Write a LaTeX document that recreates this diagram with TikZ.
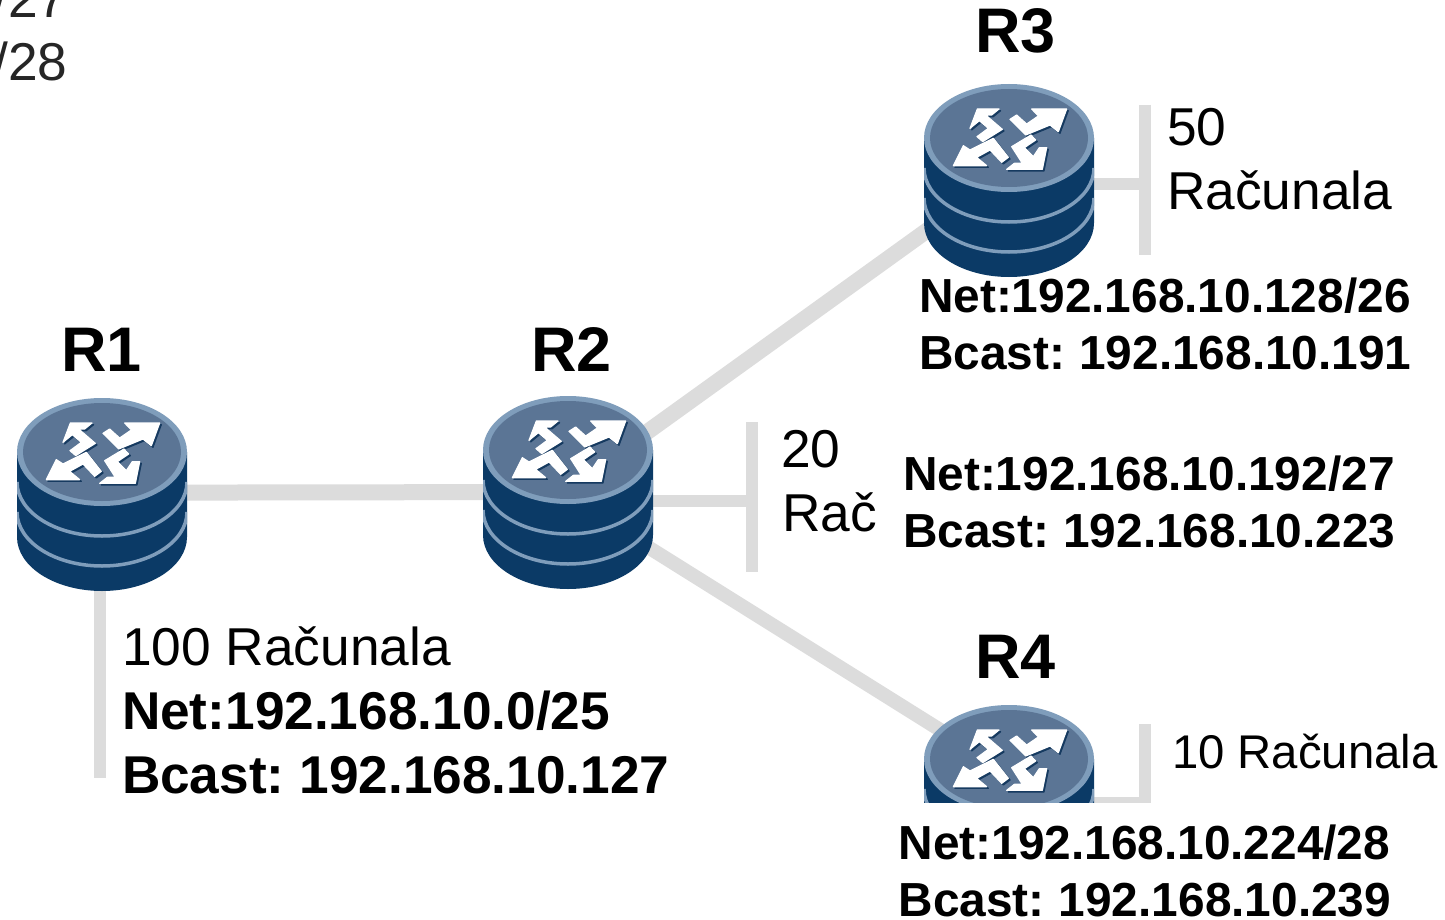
\documentclass[tikz,border=0pt]{standalone}
\usepackage{fontspec}
\setmainfont{Liberation Sans}
\definecolor{linkgray}{HTML}{DCDCDC}
\definecolor{bodyblue}{HTML}{0B3A66}
\definecolor{topblue}{HTML}{5B7595}
\definecolor{rimblue}{HTML}{7F9DBB}
\definecolor{shadeblue}{HTML}{163A60}
\definecolor{notegray}{HTML}{262626}
\def\iconpath{
 (97,27)--(162,27)--(140,45)--(122,45)--(172,88)--(113,125)--(96,110)--(130,85)--(103,62)--(75,85)--cycle
 (365,27)--(340,95)--(315,75)--(242,105)--(195,58)--(215,45)--(245,72)--(280,48)--(260,27)--cycle
 (25,197)--(55,137)--(75,150)--(145,115)--(190,172)--(170,187)--(135,150)--(95,172)--(125,197)--cycle
 (292,208)--(185,208)--(208,190)--(232,190)--(200,140)--(258,105)--(272,120)--(238,143)--(265,170)--(283,143)--(305,143)--cycle
}
\tikzset{
 spot/.style={minimum width=170pt,minimum height=190pt,inner sep=0pt,outer sep=0pt},
 link/.style={draw=linkgray,line width=12pt},
 lab/.style={anchor=base west,inner sep=0pt,outer sep=0pt,font=\fontsize{53.3pt}{60pt}\selectfont},
 net/.style={anchor=base west,inner sep=0pt,outer sep=0pt,font=\fontsize{47.8pt}{54pt}\selectfont\bfseries},
 netbig/.style={anchor=base west,inner sep=0pt,outer sep=0pt,font=\fontsize{53.2pt}{60pt}\selectfont\bfseries},
 title/.style={anchor=base west,inner sep=0pt,outer sep=0pt,font=\fontsize{63pt}{66pt}\selectfont\bfseries},
 routerpic/.pic={
  \fill[bodyblue] (-85,0) -- (-85,85) arc[start angle=180,end angle=0,x radius=85,y radius=54] -- (85,0) -- cycle;
  \begin{scope}
   \clip (-85,0) -- (-85,85) arc[start angle=180,end angle=0,x radius=85,y radius=54] -- (85,0) -- cycle;
   \draw[rimblue,line width=3.5pt] (-85,30) arc[start angle=180,end angle=0,x radius=85,y radius=54];
   \draw[rimblue,line width=3.5pt] (-85,60) arc[start angle=180,end angle=0,x radius=85,y radius=54];
  \end{scope}
  \fill[rimblue] (0,0) ellipse[x radius=85,y radius=54];
  \fill[topblue] (0,0) ellipse[x radius=79,y radius=49];
  \begin{scope}[x=0.33333pt,y=-0.33333pt,shift={(-192,-114)}]
   \filldraw[shadeblue,line width=1.2pt,line join=round,shift={(5,5)}] \iconpath;
   \filldraw[white,line width=1.2pt,line join=round] \iconpath;
  \end{scope}
 }
}
\begin{document}
\begin{tikzpicture}[x=1pt,y=-1pt]
\clip (0,0) rectangle (1445,920);
\fill[white] (0,0) rectangle (1445,920);
% router positions
\node[spot] (R1) at (102,492.7) {};
\node[spot] (R2) at (568,492) {};
\node[spot] (R3) at (1009,180) {};
\node[spot] (R4) at (1009,801) {};
\coordinate (e1) at (100,778);
\coordinate (a2) at (752,422);
\coordinate (b2) at (752,572);
\coordinate (j2) at (752,501);
\coordinate (a3) at (1145,105);
\coordinate (b3) at (1145,255);
\coordinate (j3) at (1145,184);
\coordinate (a4) at (1145,724);
\coordinate (j4) at (1145,803);
% connectors
\draw[link,line width=16pt] (R1.center) -- (R2.center);
\draw[link] (e1 |- R1.center) -- (e1);
\draw[link,line width=16pt] ([yshift=3pt]R2.center) -- ([yshift=8.5pt]R3.center);
\draw[link,line width=14pt] ([yshift=-5pt]R2.center) -- ([yshift=28pt]R4.center);
\draw[link] ([yshift=-9pt]R2.center) -- (j2);
\draw[link] (a2) -- (b2);
\draw[link] (R3.center |- j3) -- (j3);
\draw[link] (a3) -- (b3);
% routers
\pic at (102,452) {routerpic};
\pic at (568,450) {routerpic};
\pic at (1009,138) {routerpic};
% R4 stub and router are cut off by the picture's crop
\begin{scope}
 \clip (900,690) rectangle (1200,802.5);
 \draw[link] (R4.center |- j4) -- (j4);
 \draw[link] (a4) -- (1145,808);
 \pic at (1009,759) {routerpic};
\end{scope}
% labels
\node[title] (t1) at (61,371) {R1};
\node[title] (t2) at (531,371) {R2};
\node[title] (t3) at (975,53) {R3};
\node[title] (t4) at (975,678) {R4};
\node[lab,text=notegray] (n1) at (-6.5,18) {/27};
\node[lab,text=notegray] (n2) at (-6.5,81) {/28};
\node[lab] (l1) at (122,665) {100 Računala};
\node[netbig] (l2) at (122,729) {Net:192.168.10.0/25};
\node[netbig] (l3) at (122,793) {Bcast:\kern0.2pt\ 192.168.10.127};
\node[lab] (l4) at (1167,146) {50};
\node[lab] (l5) at (1167,210) {Računala};
\node[net] (l6) at (919,312) {Net:192.168.10.128/26};
\node[net] (l7) at (919,369) {Bcast:\kern1pt\ 192.168.10.191};
\node[lab] (l8) at (781,467) {20};
\node[lab] (l9) at (782,531) {Rač};
\node[net] (l10) at (903,490) {Net:192.168.10.192/27};
\node[net] (l11) at (903,547) {Bcast:\kern1pt\ 192.168.10.223};
\node[lab,font=\fontsize{47.3pt}{54pt}\selectfont] (l12) at (1172,768) {10 Računala};
\node[net] (l13) at (898.5,859) {Net:192.168.10.224/28};
\node[net] (l14) at (898.5,916) {Bcast:\kern1pt\ 192.168.10.239};
\end{tikzpicture}
\end{document}
